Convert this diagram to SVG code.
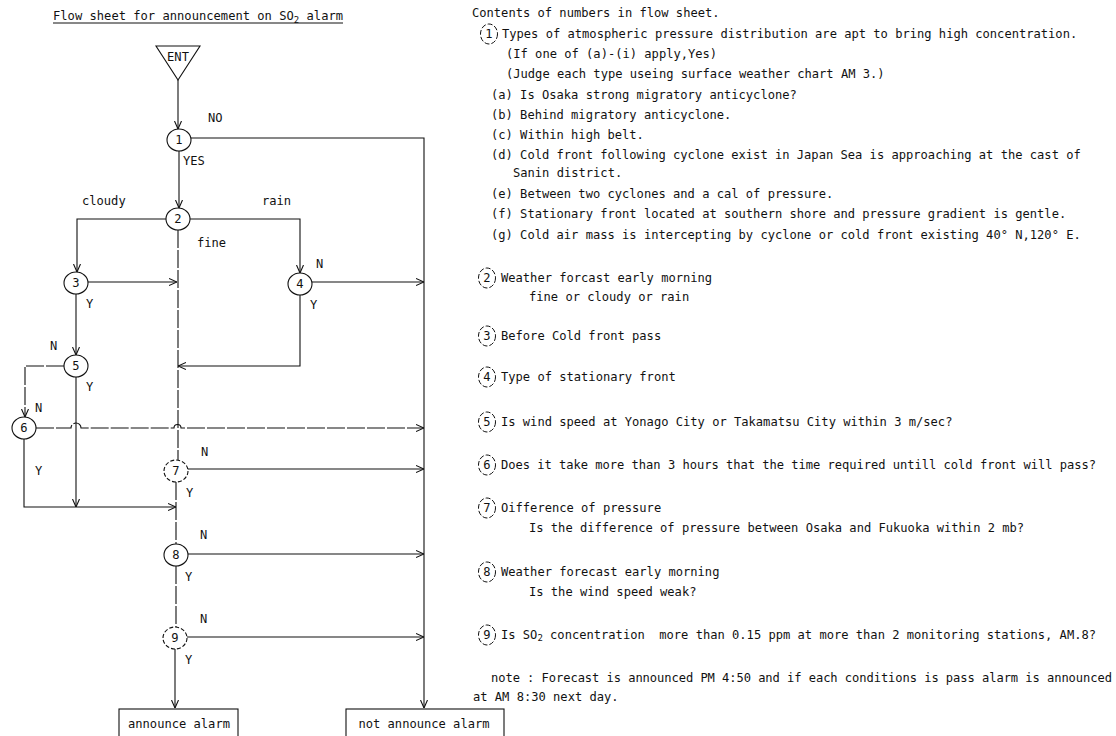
<svg xmlns="http://www.w3.org/2000/svg" width="1116" height="736" viewBox="0 0 1116 736">
<defs>
<marker id="arr" viewBox="0 0 8 8" refX="8" refY="4" markerWidth="8" markerHeight="8" markerUnits="userSpaceOnUse" orient="auto">
<path d="M0,0.5 L8,4 L0,7.5" fill="none" stroke="#111" stroke-width="1.1"/>
</marker>
<style>
text{font-family:"DejaVu Sans Mono","Liberation Mono",monospace;font-size:12.1px;fill:#111}
.c{text-anchor:middle}
.n{fill:#fff;stroke:#111;stroke-width:1.1}
.nd{fill:#fff;stroke:#111;stroke-width:1.1;stroke-dasharray:4 2}
.rc{fill:none;stroke:#111;stroke-width:1;stroke-dasharray:5 2}
.ln{fill:none;stroke:#111;stroke-width:1.1}
.la{fill:none;stroke:#111;stroke-width:1.1;marker-end:url(#arr)}
.dl{stroke-dasharray:18 2}
.bx{fill:#fff;stroke:#111;stroke-width:1.1}
</style>
</defs>
<rect width="1116" height="736" fill="#fff"/>

<g id="title">
<text x="53" y="20" textLength="290" lengthAdjust="spacing">Flow sheet for announcement on SO<tspan font-size="9" dy="3">2</tspan><tspan dy="-3"> alarm</tspan></text>
<line x1="53" y1="23" x2="343" y2="23" stroke="#111" stroke-width="1"/>
</g>

<g id="connectors">
<path class="la" d="M178 80 V129"/>
<path class="la" d="M191 138 H424 V708"/>
<path class="la" d="M179 151 V208"/>
<path class="la" d="M166 219 H77 V272"/>
<path class="la" d="M190 219 H300 V273"/>
<path class="ln dl" d="M178 230 V460"/>
<path class="la" d="M88 282 H177"/>
<path class="la" d="M312 282 H424"/>
<path class="la" d="M76 294 V355"/>
<path class="la" d="M300 295 V366 H178"/>
<path class="la dl" d="M64 366 H25 V417"/>
<path class="la" d="M76 377 V507"/>
<path class="la dl" d="M36 428 H71 A5 5 0 0 1 81 428 H174 A3.5 3.5 0 0 1 181 428 H424"/>
<path class="la" d="M24 439 V507 H176"/>
<path class="la" d="M188 469 H424"/>
<path class="ln dl" d="M176 482 V544"/>
<path class="la" d="M188 554 H424"/>
<path class="ln dl" d="M176 566 V627"/>
<path class="la" d="M187 637 H424"/>
<path class="la" d="M175 649 V708"/>
</g>

<g id="node-ent">
<path d="M156 46 H200 L178 80 Z" fill="#fff" stroke="#111" stroke-width="1.1"/>
<text class="c" x="178" y="61" font-size="11">ENT</text>
</g>
<g id="node-1"><ellipse class="n" cx="179" cy="140" rx="12" ry="11"/><text class="c" x="179" y="144">1</text></g>
<g id="node-2"><ellipse class="n" cx="178" cy="219" rx="12" ry="11"/><text class="c" x="178" y="223">2</text></g>
<g id="node-3"><ellipse class="n" cx="76" cy="283" rx="12" ry="11"/><text class="c" x="76" y="287">3</text></g>
<g id="node-4"><ellipse class="n" cx="300" cy="284" rx="12" ry="11"/><text class="c" x="300" y="288">4</text></g>
<g id="node-5"><ellipse class="n" cx="76" cy="366" rx="12" ry="11"/><text class="c" x="76" y="370">5</text></g>
<g id="node-6"><ellipse class="n" cx="24" cy="428" rx="12" ry="11"/><text class="c" x="24" y="432">6</text></g>
<g id="node-7"><ellipse class="nd" cx="176" cy="471" rx="12" ry="11"/><text class="c" x="176" y="475">7</text></g>
<g id="node-8"><ellipse class="n" cx="176" cy="555" rx="12" ry="11"/><text class="c" x="176" y="559">8</text></g>
<g id="node-9"><ellipse class="nd" cx="175" cy="638" rx="12" ry="11"/><text class="c" x="175" y="642">9</text></g>
<g id="node-announce"><rect class="bx" x="119" y="709" width="119" height="40"/><text class="c" x="179" y="728">announce alarm</text></g>
<g id="node-not-announce"><rect class="bx" x="346" y="709" width="158" height="40"/><text class="c" x="424" y="728">not announce alarm</text></g>

<g id="edge-labels">
<text x="208" y="122">NO</text>
<text x="183" y="165">YES</text>
<text x="82" y="205">cloudy</text>
<text x="262" y="205">rain</text>
<text x="197" y="247">fine</text>
<text x="316" y="268">N</text>
<text x="86" y="308">Y</text>
<text x="310" y="309">Y</text>
<text x="50" y="350">N</text>
<text x="86" y="391">Y</text>
<text x="35" y="412">N</text>
<text x="201" y="456">N</text>
<text x="35" y="475">Y</text>
<text x="186" y="497">Y</text>
<text x="200" y="539">N</text>
<text x="185" y="581">Y</text>
<text x="200" y="623">N</text>
<text x="185" y="664">Y</text>
</g>

<g id="contents">
<text x="472" y="17">Contents of numbers in flow sheet.</text>
<ellipse class="rc" cx="489" cy="34" rx="8.5" ry="10" stroke-dasharray="none"/><text class="c" x="489" y="38">1</text>
<text x="502" y="38">Types of atmospheric pressure distribution are apt to bring high concentration.</text>
<text x="506" y="58">(If one of (a)-(i) apply,Yes)</text>
<text x="506" y="78">(Judge each type useing surface weather chart AM 3.)</text>
<text x="491" y="99">(a) Is Osaka strong migratory anticyclone?</text>
<text x="491" y="119">(b) Behind migratory anticyclone.</text>
<text x="491" y="139">(c) Within high belt.</text>
<text x="491" y="159">(d) Cold front following cyclone exist in Japan Sea is approaching at the cast of</text>
<text x="513" y="177">Sanin district.</text>
<text x="491" y="198">(e) Between two cyclones and a cal of pressure.</text>
<text x="491" y="218">(f) Stationary front located at southern shore and pressure gradient is gentle.</text>
<text x="491" y="239">(g) Cold air mass is intercepting by cyclone or cold front existing 40° N,120° E.</text>

<ellipse class="rc" cx="487" cy="278" rx="8.5" ry="10"/><text class="c" x="487" y="282">2</text>
<text x="501" y="282">Weather forcast early morning</text>
<text x="529" y="301">fine or cloudy or rain</text>
<ellipse class="rc" cx="487" cy="336" rx="8.5" ry="10"/><text class="c" x="487" y="340">3</text>
<text x="501" y="340">Before Cold front pass</text>
<ellipse class="rc" cx="487" cy="377" rx="8.5" ry="10"/><text class="c" x="487" y="381">4</text>
<text x="501" y="381">Type of stationary front</text>
<ellipse class="rc" cx="487" cy="422" rx="8.5" ry="10"/><text class="c" x="487" y="426">5</text>
<text x="501" y="426">Is wind speed at Yonago City or Takamatsu City within 3 m/sec?</text>
<ellipse class="rc" cx="487" cy="465" rx="8.5" ry="10"/><text class="c" x="487" y="469">6</text>
<text x="501" y="469" textLength="595" lengthAdjust="spacing">Does it take more than 3 hours that the time required untill cold front will pass?</text>
<ellipse class="rc" cx="487" cy="508" rx="8.5" ry="10"/><text class="c" x="487" y="512">7</text>
<text x="501" y="512">Oifference of pressure</text>
<text x="529" y="532">Is the difference of pressure between Osaka and Fukuoka within 2 mb?</text>
<ellipse class="rc" cx="487" cy="572" rx="8.5" ry="10"/><text class="c" x="487" y="576">8</text>
<text x="501" y="576">Weather forecast early morning</text>
<text x="529" y="596">Is the wind speed weak?</text>
<ellipse class="rc" cx="487" cy="635" rx="8.5" ry="10"/><text class="c" x="487" y="639">9</text>
<text x="501" y="639" textLength="595" lengthAdjust="spacing">Is SO<tspan font-size="9" dy="2">2</tspan><tspan dy="-2"> concentration&#160; more than 0.15 ppm at more than 2 monitoring stations, AM.8?</tspan></text>
<text x="491" y="682" textLength="621" lengthAdjust="spacing">note : Forecast is announced PM 4:50 and if each conditions is pass alarm is announced</text>
<text x="473" y="701">at AM 8:30 next day.</text>
</g>
</svg>
